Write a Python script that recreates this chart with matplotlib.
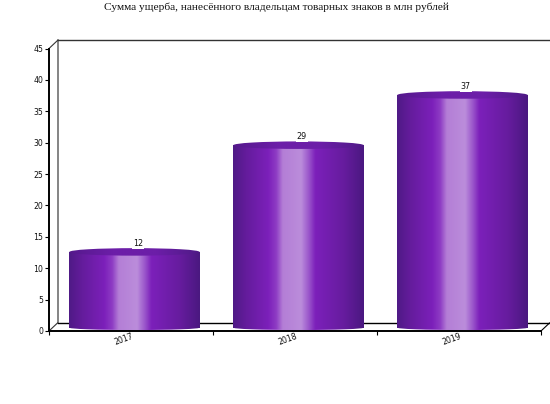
import matplotlib
matplotlib.use("Agg")
import matplotlib.pyplot as plt
import numpy as np
from matplotlib.colors import LinearSegmentedColormap
from matplotlib.patches import Ellipse

years = ["2017", "2018", "2019"]
damage = [12, 29, 37]
y_ticks = list(range(0, 50, 5))
title = "Сумма ущерба, нанесённого владельцам товарных знаков в млн рублей"

W, H = 550, 404
bar_width = 0.793
bar_dx = 3.5 / 164           # bars sit a little right of the category centre
depth_x = 8.5 / 164          # 3d depth of the frame, in data units
depth_y = 8 / 6.27
top_shift = 0.6
cap = 7.5 / 6.27             # full height of the cylinder ellipse

shade = LinearSegmentedColormap.from_list("cyl", [
    (0.0, "#4f1a86"), (0.10, "#641c9c"), (0.27, "#7c20ba"), (0.33, "#8e3cc4"),
    (0.38, "#b47ed6"), (0.52, "#bb8ddb"), (0.58, "#9a55cb"), (0.63, "#7c20ba"),
    (0.85, "#661c9e"), (1.0, "#4a1880"),
])
cap_shade = LinearSegmentedColormap.from_list("cap", ["#55198c", "#6c1ea8", "#6c1ea8", "#4f1a86"])

fig = plt.figure(figsize=(W / 100, H / 100), dpi=100)
ax = fig.add_axes([49 / W, (H - 331) / H, 492 / W, 282.5 / H])
for s in ["top", "right"]:
    ax.spines[s].set_visible(False)
ax.spines["left"].set_linewidth(1.4)
ax.spines["bottom"].set_linewidth(1.4)

# back walls and floor of the 3d frame
grey = "#707070"
ax.plot([depth_x, depth_x], [depth_y, 45 + depth_y], color=grey, lw=1.2, clip_on=False, zorder=1)
ax.plot([depth_x, 3 + depth_x], [45 + depth_y] * 2, color="#333333", lw=1.0, clip_on=False, zorder=1)
ax.plot([depth_x, 3 + depth_x], [depth_y, depth_y], color="black", lw=1.0, clip_on=False, zorder=1)
ax.plot([0, depth_x], [45, 45 + depth_y], color="#333333", lw=0.8, clip_on=False, zorder=1)
ax.plot([0, depth_x], [0, depth_y], color="#333333", lw=0.8, clip_on=False, zorder=1)
ax.plot([3, 3 + depth_x], [0, depth_y], color="black", lw=0.8, clip_on=False, zorder=1)

grad = np.linspace(0, 1, 256).reshape(1, -1)
for i, val in enumerate(damage):
    mid = i + 0.5 + bar_dx
    left = mid - bar_width / 2
    right = mid + bar_width / 2
    base = 0.55
    top = val + top_shift
    ax.imshow(grad, cmap=shade, extent=[left, right, base, top],
              aspect="auto", zorder=3, clip_on=False)
    # shallow rounded foot of the cylinder
    foot = ax.imshow(grad, cmap=shade, extent=[left, right, 0.15, base + 0.1],
                     aspect="auto", zorder=3)
    foot.set_clip_path(Ellipse((mid, base), bar_width * 1.01, 0.8, transform=ax.transData))
    # top of the cylinder
    lid = ax.imshow(grad, cmap=cap_shade, extent=[left, right, top - cap / 2, top + cap / 2],
                    aspect="auto", zorder=4)
    lid.set_clip_path(Ellipse((mid, top), bar_width, cap, transform=ax.transData))
    ax.text(mid + 0.02, top + 0.65, str(val), ha="center", va="bottom", fontsize=5.8,
            family="DejaVu Sans", color="#111111", zorder=5,
            bbox=dict(fc="white", ec="none", pad=0.5))

ax.set_xlim(0, 3)
ax.set_ylim(0, 45)
ax.set_yticks(y_ticks)
ax.set_yticklabels([str(v) for v in y_ticks], fontsize=5.6, color="#111111")
ax.set_xticks([0, 1, 2, 3])
ax.set_xticklabels([])
ax.tick_params(axis="y", length=3, width=0.8, pad=1)
ax.tick_params(axis="x", length=3, width=0.8)
for i, yr in enumerate(years):
    ax.annotate(yr, (i + 0.457, 0), xytext=(0, -6), textcoords="offset points",
                ha="center", va="center", rotation=20, fontsize=5.6, color="#111111")

fig.text(276 / W, 1 - 7 / H, title, ha="center", va="center", fontsize=8.2,
         family="Liberation Serif", color="#111111")

fig.savefig("out.png", dpi=100)
